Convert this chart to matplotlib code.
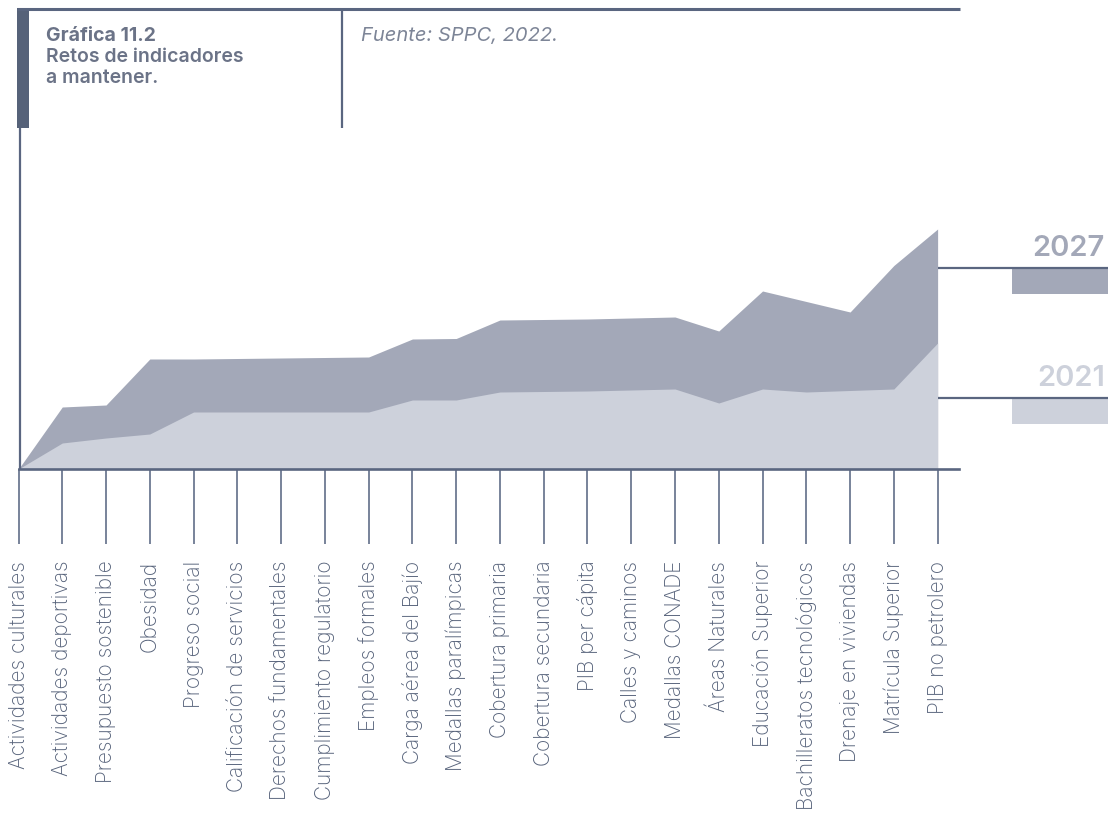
import matplotlib
matplotlib.use("Agg")
import matplotlib.pyplot as plt
from matplotlib.patches import Rectangle

# Indicators, in display order
categorias = [
    "Actividades culturales", "Actividades deportivas", "Presupuesto sostenible",
    "Obesidad", "Progreso social", "Calificación de servicios",
    "Derechos fundamentales", "Cumplimiento regulatorio", "Empleos formales",
    "Carga aérea del Bajío", "Medallas paralímpicas", "Cobertura primaria",
    "Cobertura secundaria", "PIB per cápita", "Calles y caminos",
    "Medallas CONADE", "Áreas Naturales", "Educación Superior",
    "Bachilleratos tecnológicos", "Drenaje en viviendas", "Matrícula Superior",
    "PIB no petrolero",
]

# Relative indicator level (arbitrary units)
meta_2027 = [0, 62, 64, 110, 110, 110.5, 111, 111.5, 112, 130, 130.5, 149,
             149.5, 150, 151, 152, 138, 178, 167.5, 157, 203.5, 240]
base_2021 = [0, 26, 31, 35, 57, 57, 57, 57, 57, 69, 69, 77,
             77.5, 78, 79, 80, 66, 80, 77, 78.5, 80, 126]

serie_labels = ["2027", "2021"]

C_DARK = "#a3a8b8"
C_LIGHT = "#cdd1db"
C_LINE = "#5a6680"
C_BAR = "#566279"
C_TEXT = "#56627a"
C_TITLE = "#6b7387"

W, H = 1108, 814
fig = plt.figure(figsize=(W / 100, H / 100), dpi=100)

plt.rcParams["font.family"] = ["Inter", "DejaVu Sans"]

# Data axes, placed in pixel terms
x0, x1 = 18.5, 959.5
ybase, ytop = 469.0, 10.0
ax = fig.add_axes([x0 / W, 1 - ybase / H, (x1 - x0) / W, (ybase - ytop) / H])
xs = list(range(len(categorias)))
ax.fill_between(xs, 0, meta_2027, color=C_DARK, lw=0, zorder=1)
ax.fill_between(xs, 0, base_2021, color=C_LIGHT, lw=0, zorder=2)
ax.set_xlim(0, 21.5)
ax.set_ylim(0, ybase - ytop)
for s in ["top", "right", "left"]:
    ax.spines[s].set_visible(False)
ax.spines["bottom"].set_color(C_LINE)
ax.spines["bottom"].set_linewidth(1.9)
ax.spines["bottom"].set_zorder(5)
ax.set_yticks([])
ax.set_xticks(xs)
ax.set_xticklabels(categorias, rotation=90, ha="center", va="top",
                   fontsize=15, color=C_TEXT, fontweight="light")
ax.tick_params(axis="x", direction="out", length=54, width=1.3,
               color="#6d7a92", pad=12)
ax.patch.set_alpha(0)

# Overlay axes in pixel coordinates for the frame and legend
ov = fig.add_axes([0, 0, 1, 1])
ov.set_xlim(0, W)
ov.set_ylim(H, 0)
ov.axis("off")
ov.patch.set_alpha(0)

# Header frame
ov.plot([17, 960], [8.7, 8.7], color=C_LINE, lw=2.2, solid_capstyle="butt")
ov.add_patch(Rectangle((17, 8), 12, 120, color=C_BAR, lw=0))
ov.plot([19.8, 19.8], [128, 470], color=C_LINE, lw=1.6, solid_capstyle="butt")
ov.plot([341.5, 341.5], [9, 128], color=C_LINE, lw=1.6, solid_capstyle="butt")

ov.text(46, 41, "Gráfica 11.2", fontsize=14, fontweight="bold", color=C_TITLE)
ov.text(46, 62, "Retos de indicadores", fontsize=14, fontweight="semibold", color=C_TITLE)
ov.text(46, 83, "a mantener.", fontsize=14, fontweight="semibold", color=C_TITLE)
ov.text(361, 41.5, "Fuente: SPPC, 2022.", fontsize=14.5, fontstyle="italic",
        fontweight="normal", color="#7d8597")

# Series legend on the right
for lab, yl, col in [(serie_labels[0], 268, C_DARK), (serie_labels[1], 398, C_LIGHT)]:
    ov.plot([937.5, 1108], [yl, yl], color=C_LINE, lw=1.6, solid_capstyle="butt", zorder=3)
    ov.add_patch(Rectangle((1012, yl), 96, 26, color=col, lw=0, zorder=2))
    ov.text(1105, yl - 12.5, lab, fontsize=21, fontweight="semibold", color=col,
            ha="right", va="baseline")

fig.savefig("out.png", dpi=100)
